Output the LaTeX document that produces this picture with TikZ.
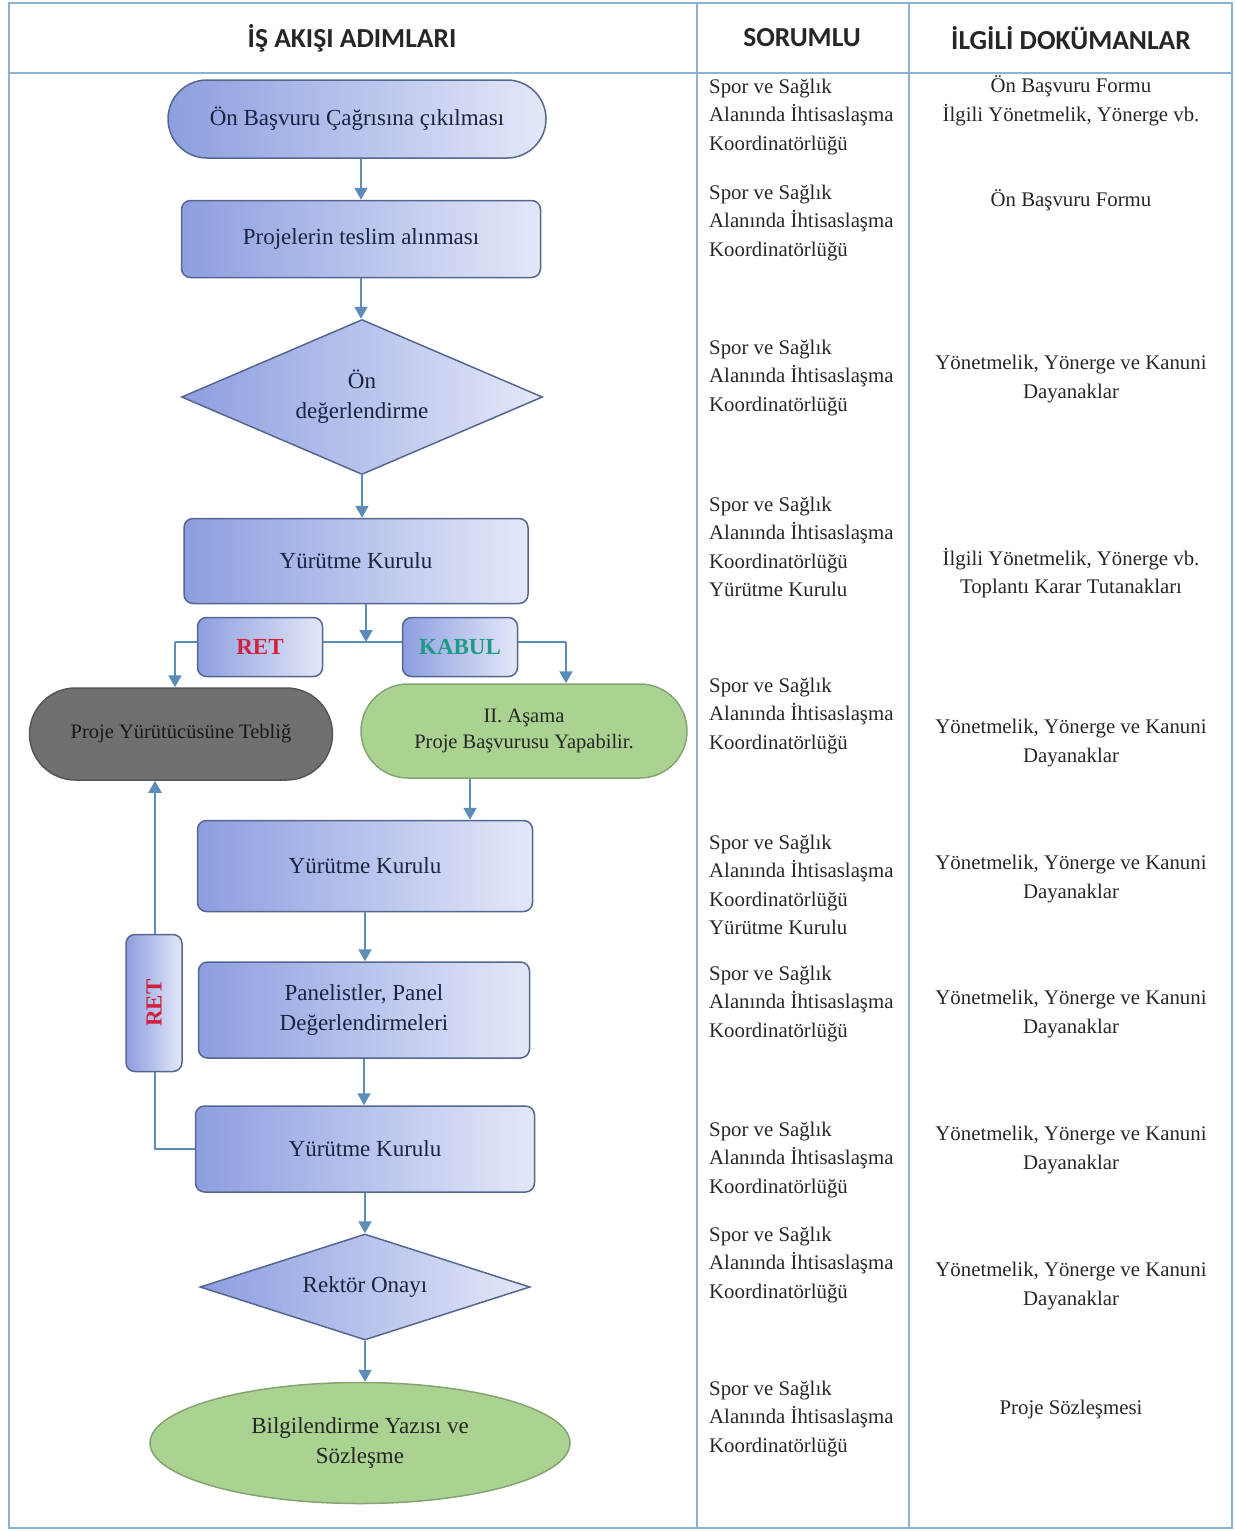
\documentclass[tikz,border=0pt]{standalone}
\usepackage{fontspec}
\setmainfont{Liberation Serif}
\newfontfamily\headfont{Carlito}
\usepackage{tikz}
\usetikzlibrary{shapes.geometric}
\usetikzlibrary{arrows.meta}
\usepackage{xcolor}

\definecolor{tblline}{HTML}{8CB2D2}
\definecolor{flowline}{HTML}{5B8DB8}
\definecolor{boxdark}{HTML}{8D9EE0}
\definecolor{boxlight}{HTML}{E3E8F8}
\definecolor{boxedge}{HTML}{56678F}
\definecolor{greenfill}{HTML}{AAD291}
\definecolor{greenedge}{HTML}{86A374}
\definecolor{grayfill}{HTML}{707070}
\definecolor{grayedge}{HTML}{555555}
\definecolor{navytext}{HTML}{1C2340}
\definecolor{retred}{HTML}{D1213B}
\definecolor{kabulteal}{HTML}{1F9A86}

% text of the responsible unit, repeated in every row
\newcommand{\unitText}{Spor ve Sağlık\\Alanında İhtisaslaşma\\Koordinatörlüğü}
\newcommand{\lawText}{Yönetmelik, Yönerge ve Kanuni\\Dayanaklar}

\begin{document}
\begin{tikzpicture}[x=1pt, y=-1pt,
    flowtext/.style={text=navytext, font=\fontsize{23}{30}\selectfont, align=center, inner sep=0pt},
    bluebox/.style={flowtext, draw=boxedge, line width=1.5pt, rounded corners=9pt, left color=boxdark, right color=boxlight},
    bluepill/.style={bluebox, rounded corners=39pt},
    bluediamond/.style={flowtext, shape=diamond, draw=boxedge, line width=1.5pt, left color=boxdark, right color=boxlight},
    greenpill/.style={flowtext, font=\fontsize{20.5}{26}\selectfont, text=black!85, draw=greenedge, line width=1.5pt, fill=greenfill, rounded corners=47pt},
    graypill/.style={flowtext, font=\fontsize{20.5}{26}\selectfont, text=black!90, draw=grayedge, line width=1.5pt, fill=grayfill, rounded corners=46pt},
    greenoval/.style={flowtext, shape=ellipse, text=black!85, draw=greenedge, line width=1.5pt, fill=greenfill},
    decision/.style={bluebox, font=\fontsize{23}{30}\selectfont\bfseries},
    arr/.style={draw=flowline, line width=2.2pt, -{Triangle[width=13pt,length=12pt]}},
    link/.style={draw=flowline, line width=2.2pt},
    grid/.style={draw=tblline, line width=2pt},
    colhead/.style={font=\headfont\bfseries\fontsize{27.5}{30}\selectfont, text=black!85},
    coltext/.style={font=\fontsize{20.8}{28.5}\selectfont, text=black!85, inner sep=0pt}
  ]
  \useasboundingbox (0,0) rectangle (1235,1531);

  % Draw the table frame
  \draw[grid] (9,3) rectangle (1232,1528);
  \draw[grid] (9,73) -- (1232,73);
  \draw[grid] (697,3) -- (697,1528);
  \draw[grid] (909,3) -- (909,1528);

  % Column headers
  \node[colhead] (headsteps) at (352,38) {İŞ AKIŞI ADIMLARI};
  \node[colhead] (headunit) at (802,38) {SORUMLU};
  \node[colhead] (headdocs) at (1071,38) {İLGİLİ DOKÜMANLAR};

  % Flow steps
  \node[bluepill, minimum width=378pt, minimum height=78pt] (call) at (357,119) {Ön Başvuru Çağrısına çıkılması};
  \node[bluebox, minimum width=359pt, minimum height=77pt] (recv) at (361,239) {Projelerin teslim alınması};
  \node[bluediamond, aspect=2.33, minimum width=361pt, minimum height=155pt] (pre) at (362,397) {Ön\\değerlendirme};
  \node[bluebox, minimum width=344pt, minimum height=85pt] (yk1) at (356,561) {Yürütme Kurulu};
  \node[graypill, minimum width=303pt, minimum height=92pt] (notify) at (181,734) {Proje Yürütücüsüne Tebliğ};
  \node[greenpill, minimum width=326pt, minimum height=94pt] (stage2) at (524,731) {II. Aşama\\Proje Başvurusu Yapabilir.};
  \node[bluebox, minimum width=335pt, minimum height=91pt] (yk2) at (365,866) {Yürütme Kurulu};
  \node[bluebox, minimum width=331pt, minimum height=96pt] (panel) at (364,1010) {Panelistler, Panel\\Değerlendirmeleri};
  \node[bluebox, minimum width=339pt, minimum height=86pt] (yk3) at (365,1149) {Yürütme Kurulu};
  \node[bluediamond, aspect=3.1, minimum width=330pt, minimum height=106pt] (rector) at (365,1287) {Rektör Onayı};
  \node[greenoval, minimum width=420pt, minimum height=121pt] (final) at (360,1443) {Bilgilendirme Yazısı ve\\Sözleşme};

  % Turning points of the connectors
  \coordinate (split) at (366,642);
  \coordinate (retturn) at (175,642);
  \coordinate (kabturn) at (566,642);
  \coordinate (stage2link) at (470,800);
  \coordinate (loopturn) at (155,1149);

  % Draw the connectors
  \draw[arr] (recv.north |- call.south) -- (recv.north);
  \draw[arr] (recv.south) -- (recv.south |- pre.north);
  \draw[arr] (pre.south) -- (pre.south |- yk1.north);
  \draw[arr] (yk1.south -| split) -- (split);
  \draw[link] (retturn) -- (kabturn);
  \draw[arr] (retturn) -- (retturn |- notify.north);
  \draw[arr] (kabturn) -- (kabturn |- stage2.north);
  \draw[arr] (stage2.south -| stage2link) -- (yk2.north -| stage2link);
  \draw[arr] (yk2.south) -- (yk2.south |- panel.north);
  \draw[arr] (panel.south) -- (panel.south |- yk3.north);
  \draw[arr] (yk3.south) -- (yk3.south |- rector.north);
  \draw[arr] (rector.south) -- (rector.south |- final.north);
  \draw[arr] (yk3.west) -- (loopturn) -- (loopturn |- notify.south);

  % Decision labels sitting on the lines
  \node[decision, text=retred, minimum width=125pt, minimum height=59pt] (ret) at (260,647) {RET};
  \node[decision, text=kabulteal, minimum width=115pt, minimum height=59pt] (kabul) at (460,647) {KABUL};
  \node[decision, text=retred, minimum width=56pt, minimum height=137pt] (retloop) at (154,1003) {\rotatebox{90}{RET}};

  % Responsible units
  \node[coltext, anchor=west, align=left] (unit1) at (709,117) {\unitText};
  \node[coltext, anchor=west, align=left] (unit2) at (709,223) {\unitText};
  \node[coltext, anchor=west, align=left] (unit3) at (709,378) {\unitText};
  \node[coltext, anchor=west, align=left] (unit4) at (709,547) {\unitText\\Yürütme Kurulu};
  \node[coltext, anchor=west, align=left] (unit5) at (709,716) {\unitText};
  \node[coltext, anchor=west, align=left] (unit6) at (709,885) {\unitText\\Yürütme Kurulu};
  \node[coltext, anchor=west, align=left] (unit7) at (709,1004) {\unitText};
  \node[coltext, anchor=west, align=left] (unit8) at (709,1160) {\unitText};
  \node[coltext, anchor=west, align=left] (unit9) at (709,1265) {\unitText};
  \node[coltext, anchor=west, align=left] (unit10) at (709,1419) {\unitText};

  % Related documents
  \node[coltext, align=center] (docs1) at (1071,101) {Ön Başvuru Formu\\İlgili Yönetmelik, Yönerge vb.};
  \node[coltext, align=center] (docs2) at (1071,200) {Ön Başvuru Formu};
  \node[coltext, align=center] (docs3) at (1071,379) {\lawText};
  \node[coltext, align=center] (docs4) at (1071,573) {İlgili Yönetmelik, Yönerge vb.\\Toplantı Karar Tutanakları};
  \node[coltext, align=center] (docs5) at (1071,743) {\lawText};
  \node[coltext, align=center] (docs6) at (1071,879) {\lawText};
  \node[coltext, align=center] (docs7) at (1071,1014) {\lawText};
  \node[coltext, align=center] (docs8) at (1071,1150) {\lawText};
  \node[coltext, align=center] (docs9) at (1071,1286) {\lawText};
  \node[coltext, align=center] (docs10) at (1071,1409) {Proje Sözleşmesi};
\end{tikzpicture}
\end{document}
